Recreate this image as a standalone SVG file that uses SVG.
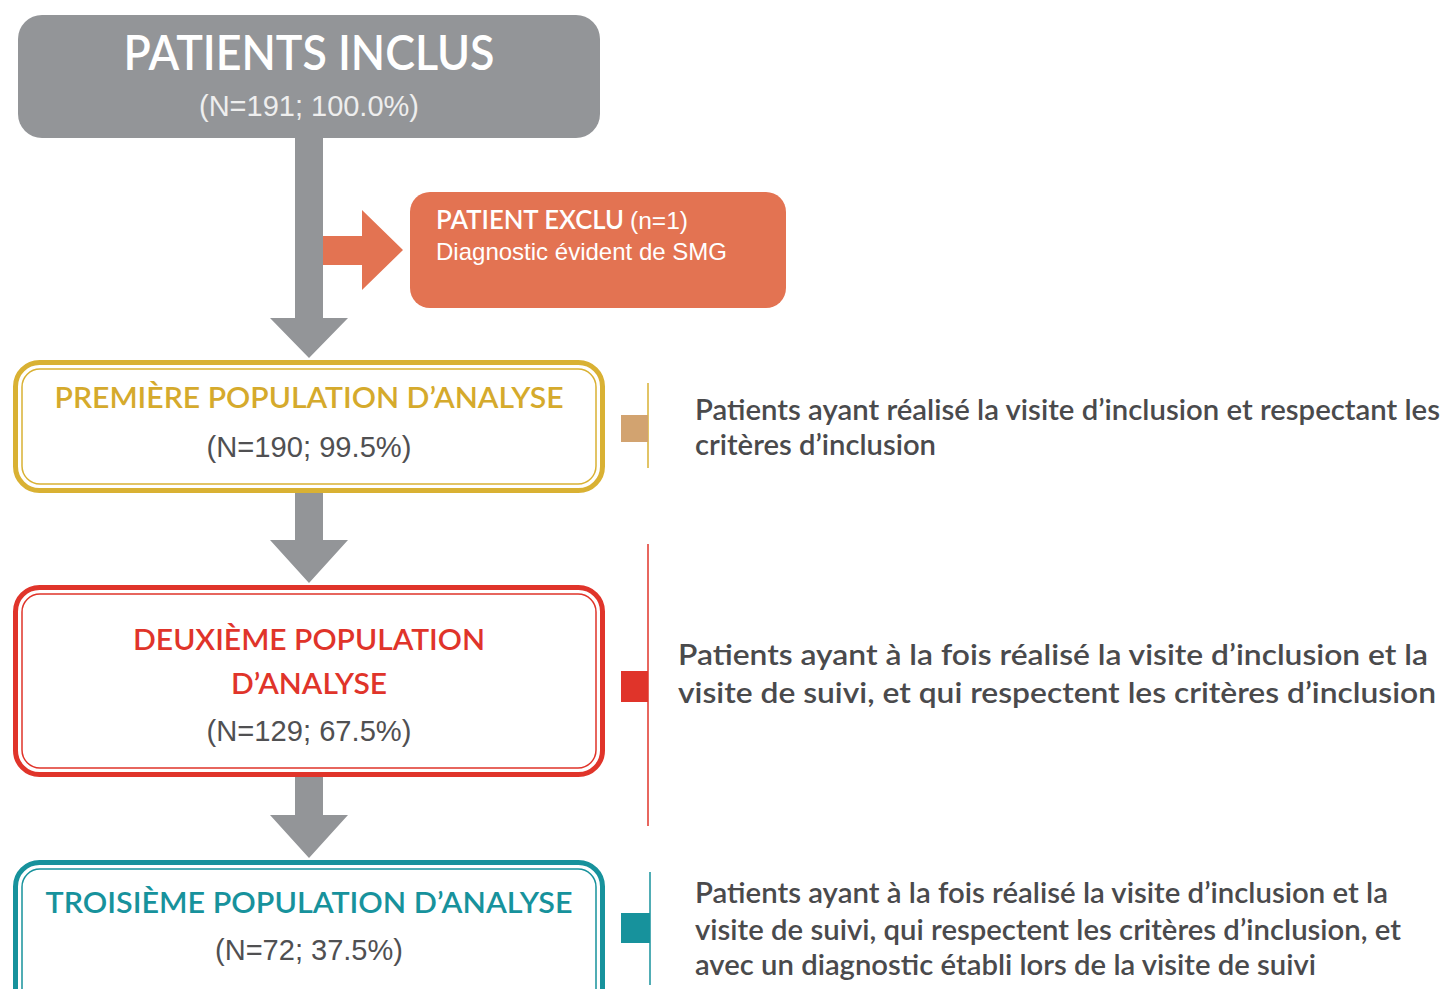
<svg xmlns="http://www.w3.org/2000/svg" width="1445" height="989" viewBox="0 0 1445 989">
<style>
.lato{font-family:Lato,"Liberation Sans",sans-serif}
.arial{font-family:"Liberation Sans",Arial,sans-serif}
.desc{font-family:Lato,"Liberation Sans",sans-serif;font-size:28px;fill:#4a4a4c;font-weight:600}
.num{font-family:"Liberation Sans",Arial,sans-serif;font-size:29px;fill:#505052;text-anchor:middle}
.ttl{font-family:Lato,"Liberation Sans",sans-serif;font-size:29px;text-anchor:middle;font-weight:600}
.gray{fill:#939598}
</style>
<rect width="1445" height="989" fill="#ffffff"/>
<g id="connectors">
  <polygon class="gray" points="295,136 323,136 323,318 348,318 309,358 270,318 295,318"/>
  <polygon fill="#e37352" points="323,236 362,236 362,210 403,250 362,290 362,265 323,265"/>
  <polygon class="gray" points="295,492 323,492 323,540 348,540 309,583 270,540 295,540"/>
  <polygon class="gray" points="295,776 323,776 323,815 348,815 309,858 270,815 295,815"/>
</g>
<g id="patients-inclus">
  <rect x="18" y="15" width="582" height="123" rx="24" class="gray"/>
  <text x="309" y="70" class="lato" font-size="48" font-weight="600" fill="#ffffff" text-anchor="middle" textLength="371" lengthAdjust="spacingAndGlyphs">PATIENTS INCLUS</text>
  <text x="309" y="116" class="arial" font-size="29" fill="#eeeeee" text-anchor="middle" textLength="220" lengthAdjust="spacingAndGlyphs">(N=191; 100.0%)</text>
</g>
<g id="patient-exclu">
  <rect x="410" y="192" width="376" height="116" rx="20" fill="#e37352"/>
  <text x="436" y="229" class="lato" font-size="26" font-weight="600" fill="#ffffff" textLength="188" lengthAdjust="spacingAndGlyphs">PATIENT EXCLU</text>
  <text x="630" y="229" class="arial" font-size="23" fill="#ffffff" textLength="58" lengthAdjust="spacingAndGlyphs">(n=1)</text>
  <text x="436" y="260" class="arial" font-size="24" fill="#ffffff" textLength="291" lengthAdjust="spacingAndGlyphs">Diagnostic évident de SMG</text>
</g>
<g id="premiere">
  <rect x="15.5" y="362.5" width="587" height="128" rx="24" fill="#ffffff" stroke="#d9b133" stroke-width="5"/>
  <rect x="22" y="369" width="574" height="115" rx="18" fill="none" stroke="#d9b133" stroke-width="1.5"/>
  <text x="309" y="408" class="ttl" fill="#d5aa2c" textLength="509" lengthAdjust="spacingAndGlyphs">PREMIÈRE POPULATION D’ANALYSE</text>
  <text x="309" y="457" class="num" textLength="205" lengthAdjust="spacingAndGlyphs">(N=190; 99.5%)</text>
</g>
<g id="deuxieme">
  <rect x="15.5" y="587.5" width="587" height="187" rx="24" fill="#ffffff" stroke="#e0342a" stroke-width="5"/>
  <rect x="22" y="594" width="574" height="174" rx="18" fill="none" stroke="#e0342a" stroke-width="1.5"/>
  <text x="309" y="650" class="ttl" fill="#e0342a" textLength="352" lengthAdjust="spacingAndGlyphs">DEUXIÈME POPULATION</text>
  <text x="309" y="694" class="ttl" fill="#e0342a" textLength="156" lengthAdjust="spacingAndGlyphs">D’ANALYSE</text>
  <text x="309" y="741" class="num" textLength="205" lengthAdjust="spacingAndGlyphs">(N=129; 67.5%)</text>
</g>
<g id="troisieme">
  <rect x="15.5" y="862.5" width="587" height="160" rx="24" fill="#ffffff" stroke="#17929c" stroke-width="5"/>
  <rect x="22" y="869" width="574" height="146" rx="18" fill="none" stroke="#17929c" stroke-width="1.5"/>
  <text x="309" y="913" class="ttl" fill="#17929c" textLength="527" lengthAdjust="spacingAndGlyphs">TROISIÈME POPULATION D’ANALYSE</text>
  <text x="309" y="960" class="num" textLength="188" lengthAdjust="spacingAndGlyphs">(N=72; 37.5%)</text>
</g>
<g id="legend-1">
  <line x1="648" y1="383" x2="648" y2="468" stroke="#d9b133" stroke-width="1.5"/>
  <rect x="621" y="415" width="27" height="27" fill="#d2a370"/>
  <text x="695" y="420" class="desc" textLength="745" lengthAdjust="spacingAndGlyphs">Patients ayant réalisé la visite d’inclusion et respectant les</text>
  <text x="695" y="455" class="desc" textLength="241" lengthAdjust="spacingAndGlyphs">critères d’inclusion</text>
</g>
<g id="legend-2">
  <line x1="648" y1="544" x2="648" y2="826" stroke="#e0342a" stroke-width="1.5"/>
  <rect x="621" y="671" width="27" height="31" fill="#e0342a"/>
  <text x="678" y="665" class="desc" font-size="30" textLength="750" lengthAdjust="spacingAndGlyphs">Patients ayant à la fois réalisé la visite d’inclusion et la</text>
  <text x="678" y="703" class="desc" font-size="30" textLength="758" lengthAdjust="spacingAndGlyphs">visite de suivi, et qui respectent les critères d’inclusion</text>
</g>
<g id="legend-3">
  <line x1="650" y1="872" x2="650" y2="985" stroke="#17929c" stroke-width="1.5"/>
  <rect x="621" y="913" width="29" height="30" fill="#17929c"/>
  <text x="695" y="903" class="desc" textLength="693" lengthAdjust="spacingAndGlyphs">Patients ayant à la fois réalisé la visite d’inclusion et la</text>
  <text x="695" y="940" class="desc" textLength="706" lengthAdjust="spacingAndGlyphs">visite de suivi, qui respectent les critères d’inclusion, et</text>
  <text x="695" y="975" class="desc" textLength="621" lengthAdjust="spacingAndGlyphs">avec un diagnostic établi lors de la visite de suivi</text>
</g>
</svg>
